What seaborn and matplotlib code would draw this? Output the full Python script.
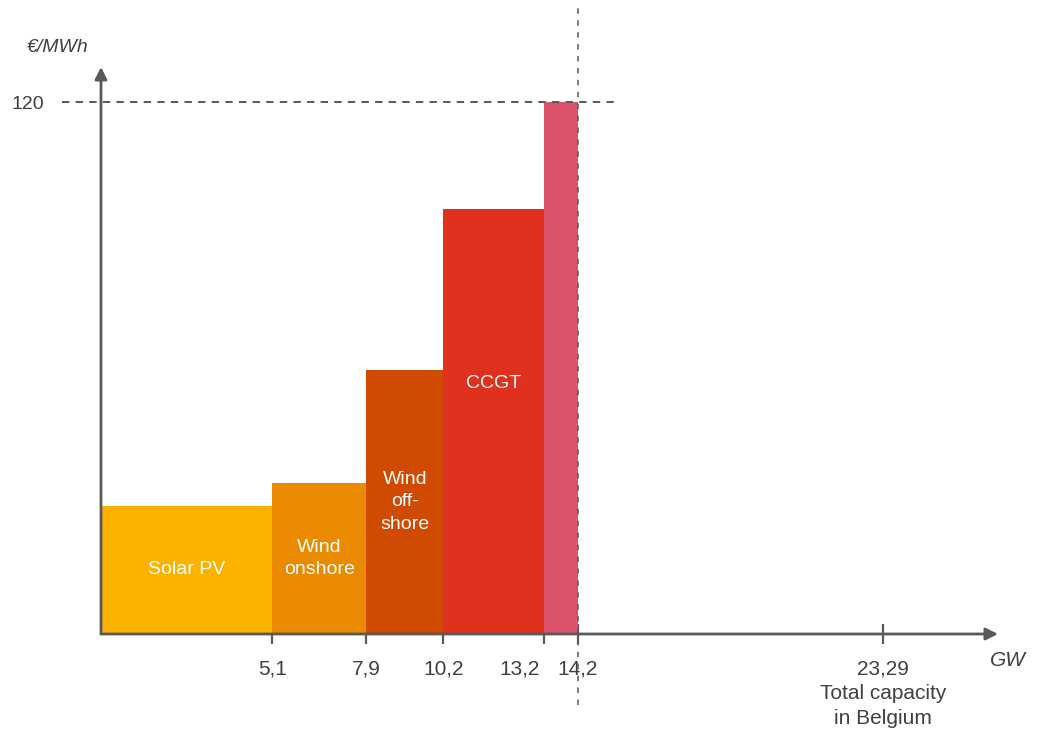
import matplotlib
matplotlib.use("Agg")
import matplotlib.pyplot as plt
import matplotlib.transforms as mtransforms
import numpy as np
import pandas as pd
import seaborn as sns

# Merit order of the Belgian power park: cumulative capacity (GW) vs. cost (EUR/MWh)
technologies = ["Solar PV", "Wind onshore", "Wind offshore", "CCGT", "Peaking"]
bar_labels = ["Solar PV", "Wind\nonshore", "Wind\noff-\nshore", "CCGT", ""]
cum_capacity = [5.1, 7.9, 10.2, 13.2, 14.2]
cost = [28.9, 34.1, 59.6, 95.9, 120.0]
total_capacity = 23.29
tick_labels = ["5,1", "7,9", "10,2", "13,2", "14,2", "23,29\nTotal capacity\nin Belgium"]
price_cap = 120
colors = ["#FDB200", "#EA8A00", "#D04A02", "#E0301E", "#DB536A"]

AXIS = "#595959"
TEXT = "#404040"

sns.set_theme(style="white")
plt.rcParams["font.family"] = ["Liberation Sans", "DejaVu Sans"]

W, H = 1037, 732
fig = plt.figure(figsize=(W / 100, H / 100), dpi=100)
ax = fig.add_axes([0, 0, 1, 1])

# origin of the chart inside the canvas and its scale (pixels per unit)
x0_px, y0_px = 101, 634
sx, sy = 33.57, 4.433
ax.set_xlim(-x0_px / sx, (W - x0_px) / sx)
ax.set_ylim(-(H - y0_px) / sy, y0_px / sy)

edges = [0.0] + cum_capacity
mids = [(a + b) / 2 for a, b in zip(edges[:-1], edges[1:])]
df = pd.DataFrame({"tech": technologies, "mid": mids, "cost": cost})

sns.histplot(
    data=df, x="mid", weights="cost", hue="tech", hue_order=technologies,
    bins=edges, palette=dict(zip(technologies, colors)), multiple="layer",
    alpha=1, linewidth=0, legend=False, ax=ax,
)
ax.set_xlabel("")
ax.set_ylabel("")

# labels inside the blocks
label_frac = [0.5, 0.5, 0.5, 0.59, 0.5]
for m, c, lab, f in zip(mids, cost, bar_labels, label_frac):
    if lab:
        ax.text(m, c * f, lab, ha="center", va="center", color="white",
                fontsize=14, linespacing=1.4)

# axes drawn as arrows
for s in ax.spines.values():
    s.set_visible(False)
ax.spines["bottom"].set_position(("data", 0))
ax.spines["left"].set_position(("data", 0))
x_end = (998 - x0_px) / sx
y_end = (y0_px - 67) / sy
arrow = dict(arrowstyle="-|>", color=AXIS, lw=2, mutation_scale=18,
             shrinkA=0, shrinkB=0)
ax.annotate("", xy=(x_end, 0), xytext=(0, 0), arrowprops=arrow, zorder=5)
ax.annotate("", xy=(0, y_end), xytext=(0, 0), arrowprops=arrow, zorder=5)

# ticks on the capacity axis
ax.set_xticks(cum_capacity + [total_capacity])
ax.set_xticklabels(tick_labels)
ax.tick_params(axis="x", direction="inout", length=14.4, width=1.6,
               color=AXIS, labelsize=15, labelcolor=TEXT, pad=11, bottom=True)
xt = ax.get_xticklabels()
# the two close ticks: set the first label to the left of its tick
xt[3].set_ha("right")
xt[3].set_transform(xt[3].get_transform() +
                    mtransforms.ScaledTranslation(-4 / 100, 0, fig.dpi_scale_trans))
xt[-1].set_linespacing(1.4)

ax.set_yticks([price_cap])
ax.set_yticklabels([str(price_cap)])
ax.tick_params(axis="y", length=0, labelsize=14, labelcolor=TEXT, pad=41, left=True)

# price cap and capacity reference lines
ax.hlines(price_cap, (62 - x0_px) / sx, (618 - x0_px) / sx, colors=AXIS,
          linewidth=1.4, linestyles=(0, (3.8, 3.2)), zorder=4)
ax.vlines(cum_capacity[-1], -(705 - y0_px) / sy, (y0_px - 8) / sy, colors=AXIS,
          linewidth=1.1, linestyles=(0, (3.6, 4.2)), zorder=4)

# unit labels
ax.text((58 - x0_px) / sx, (y0_px - 47) / sy, "€/MWh", ha="center", va="center",
        fontsize=14, fontstyle="italic", color=TEXT)
ax.text((1008 - x0_px) / sx, -(660 - y0_px) / sy, "GW", ha="center", va="center",
        fontsize=15, fontstyle="italic", color=TEXT)

fig.savefig("out.png", dpi=100)
